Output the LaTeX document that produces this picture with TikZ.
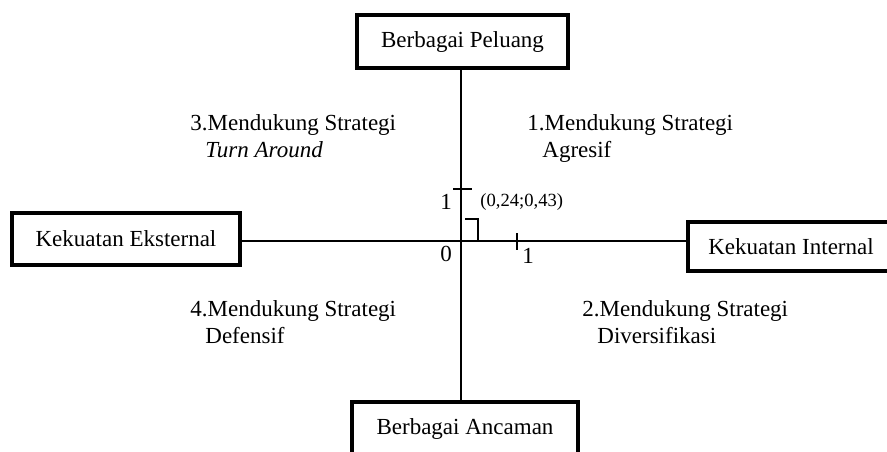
\documentclass[tikz,border=0pt]{standalone}
\usepackage{fontspec}
\setmainfont{Liberation Serif}
\usetikzlibrary{positioning}
\tikzstyle{kotak} = [draw, line width=1.7pt, inner sep=0pt, font=\fontsize{11.5}{13.8}\selectfont]
\tikzstyle{sumbu} = [line width=0.7pt]
\tikzstyle{kuadran} = [anchor=base west, align=left, inner sep=0pt, font=\fontsize{11.5}{13.5}\selectfont]
\tikzstyle{angka} = [inner sep=0pt, font=\fontsize{11.5}{13.8}\selectfont]

\begin{document}
\begin{tikzpicture}[x=0.5pt, y=-0.5pt]
            \useasboundingbox (0,0) rectangle (887,451);
            \node[kotak, minimum width=105.5pt, minimum height=26.5pt] (peluang) at (462.5,41.5) {Berbagai Peluang};
            \node[kotak, minimum width=114pt, minimum height=26pt] (eksternal) at (126,239) {Kekuatan Eksternal};
            \node[kotak, minimum width=103pt, minimum height=24.5pt] (internal) at (791,246.5) {Kekuatan Internal};
            \node[kotak, minimum width=113pt, minimum height=27pt] (ancaman) at (465,429) {Berbagai Ancaman};
            \coordinate (O) at (461,241);

            % sumbu
            \draw[sumbu] (peluang.south -| O) -- (ancaman.north -| O);
            \draw[sumbu] (eksternal.east |- O) -- (internal.west |- O);
            \draw[sumbu] (453,189) -- (472,189);
            \draw[sumbu] (517,233) -- (517,250);
            \draw[sumbu] (465,219) -- (478,219) -- (478,241);
            \node[angka] (satuY) at (446,202) {1};
            \node[angka] (satuX) at (528,256) {1};
            \node[angka] (nol) at (446,254) {0};
            \node[anchor=west, inner sep=0pt, font=\fontsize{9.3}{11}\selectfont] (titik) at (480,202) {(0,24;0,43)};

            % kuadran
            \node[kuadran] (k3) at (190,157) {3.Mendukung Strategi\\\hspace*{7.5pt}\textit{Turn Around}};
            \node[kuadran] (k1) at (527,157) {1.Mendukung Strategi\\\hspace*{7.5pt}Agresif};
            \node[kuadran] (k4) at (190,343) {4.Mendukung Strategi\\\hspace*{7.5pt}Defensif};
            \node[kuadran] (k2) at (582,343) {2.Mendukung Strategi\\\hspace*{7.5pt}Diversifikasi};
        \end{tikzpicture}
\end{document}
